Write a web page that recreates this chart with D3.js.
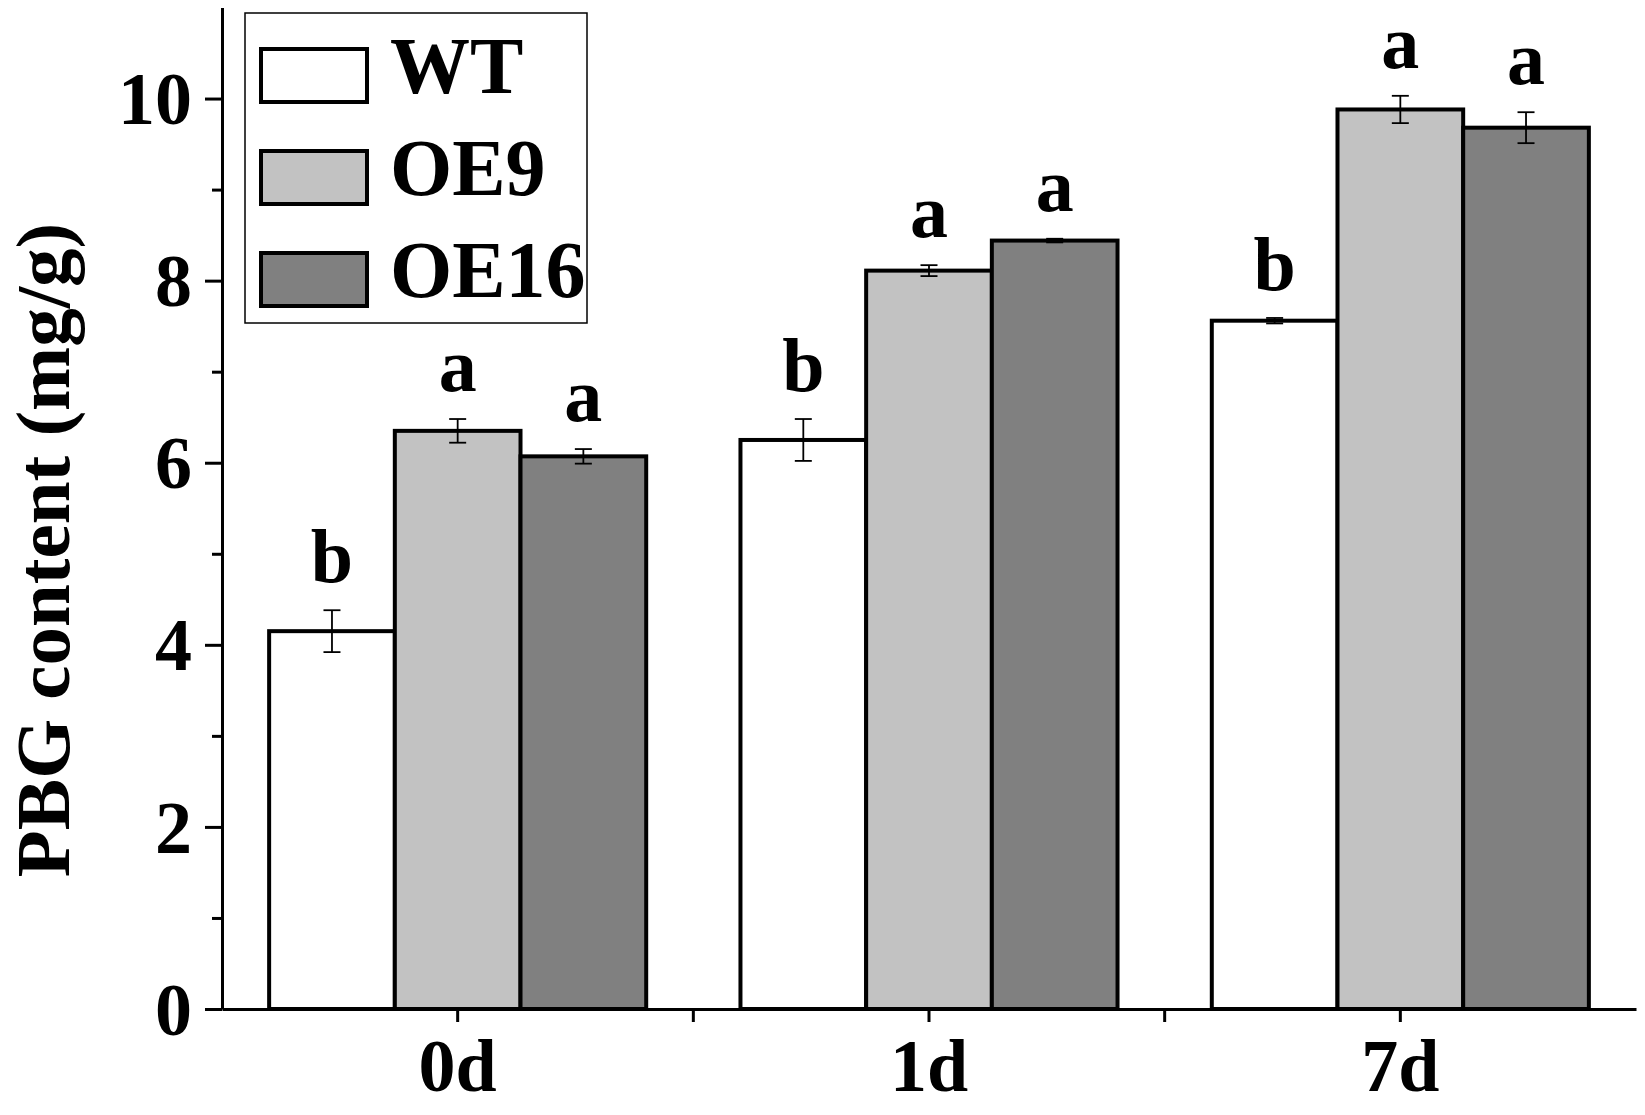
<!DOCTYPE html>
<html lang="en">
<head>
<meta charset="utf-8">
<title>PBG content</title>
<script src="https://cdn.jsdelivr.net/npm/d3@7"></script>
<style>
  html, body { margin: 0; padding: 0; background: #fff; }
  svg text { font-family: "Liberation Serif", "Times New Roman", serif; font-weight: bold; fill: #000; }
</style>
</head>
<body>
<script>
// chart data
var days = ["0d", "1d", "7d"];
var series = ["WT", "OE9", "OE16"];
var colors = ["#ffffff", "#c2c2c2", "#808080"];
var wtVals = [4.15, 6.25, 7.56];
var oe9Vals = [6.35, 8.11, 9.88];
var oe16Vals = [6.07, 8.44, 9.68];
var wtErr = [0.23, 0.23, 0.03];
var oe9Err = [0.13, 0.06, 0.15];
var oe16Err = [0.08, 0.02, 0.17];
var wtSig = ["b", "b", "b"];
var oe9Sig = ["a", "a", "a"];
var oe16Sig = ["a", "a", "a"];
var yMajor = [0, 2, 4, 6, 8, 10];
var yMinor = [1, 3, 5, 7, 9];

var w = 1645, h = 1115;
var padL = 222, padR = 1636, padT = 7.5, padB = 1009;

var vals = [wtVals, oe9Vals, oe16Vals];
var errs = [wtErr, oe9Err, oe16Err];
var sigs = [wtSig, oe9Sig, oe16Sig];

var rows = [];
days.forEach(function(d, i) {
    series.forEach(function(s, j) {
        rows.push({day: d, s: s, j: j, v: vals[j][i], e: errs[j][i], sig: sigs[j][i]});
    });
});

var svg = d3.select("body").append("svg")
    .attr("width", w)
    .attr("height", h);

var xScale = d3.scaleBand()
    .domain(days)
    .range([padL, padR])
    .paddingInner(0.2)
    .paddingOuter(0.1);

var xSub = d3.scaleBand()
    .domain(series)
    .range([0, xScale.bandwidth()]);

var yScale = d3.scaleLinear()
    .domain([0, 11])
    .range([padB, padT]);

// bars
svg.selectAll("rect.bar")
    .data(rows)
    .enter()
    .append("rect")
    .attr("class", "bar")
    .attr("x", function(d) { return xScale(d.day) + xSub(d.s); })
    .attr("y", function(d) { return yScale(d.v); })
    .attr("width", xSub.bandwidth())
    .attr("height", function(d) { return yScale(0) - yScale(d.v); })
    .attr("fill", function(d) { return colors[d.j]; })
    .attr("stroke", "#000")
    .attr("stroke-width", 4);

// error bars
var cap = 8.5;
var eb = svg.selectAll("g.err")
    .data(rows)
    .enter()
    .append("g")
    .attr("class", "err")
    .attr("stroke", "#000")
    .attr("stroke-width", 1.8);

function cx(d) { return xScale(d.day) + xSub(d.s) + xSub.bandwidth() / 2; }

eb.append("line")
    .attr("x1", cx).attr("x2", cx)
    .attr("y1", function(d) { return yScale(d.v - d.e); })
    .attr("y2", function(d) { return yScale(d.v + d.e); });
eb.append("line")
    .attr("x1", function(d) { return cx(d) - cap; })
    .attr("x2", function(d) { return cx(d) + cap; })
    .attr("y1", function(d) { return yScale(d.v + d.e); })
    .attr("y2", function(d) { return yScale(d.v + d.e); });
eb.append("line")
    .attr("x1", function(d) { return cx(d) - cap; })
    .attr("x2", function(d) { return cx(d) + cap; })
    .attr("y1", function(d) { return yScale(d.v - d.e); })
    .attr("y2", function(d) { return yScale(d.v - d.e); });

// significance letters
svg.selectAll("text.sig")
    .data(rows)
    .enter()
    .append("text")
    .attr("class", "sig")
    .attr("x", cx)
    .attr("y", function(d) { return yScale(d.v + d.e) - 28; })
    .attr("text-anchor", "middle")
    .attr("font-size", "76px")
    .text(function(d) { return d.sig; });

// y axis
var yAxis = d3.axisLeft(yScale)
    .tickValues(yMajor)
    .tickSize(17)
    .tickSizeOuter(0)
    .tickPadding(13)
    .tickFormat(d3.format("d"));

var gy = svg.append("g")
    .attr("transform", "translate(" + padL + ",0)")
    .call(yAxis);
gy.select(".domain").attr("stroke-width", 3);
gy.selectAll(".tick line").attr("stroke-width", 3);
gy.selectAll(".tick text")
    .attr("font-size", "74px")
    .attr("font-family", "Liberation Serif")
    .attr("dy", "0.34em");

var gyMinor = svg.append("g")
    .attr("transform", "translate(" + padL + ",0)")
    .call(d3.axisLeft(yScale).tickValues(yMinor).tickSize(10).tickSizeOuter(0).tickFormat(""));
gyMinor.select(".domain").remove();
gyMinor.selectAll(".tick line").attr("stroke-width", 3);

// x axis
var xAxis = d3.axisBottom(xScale)
    .tickSize(13)
    .tickSizeOuter(0)
    .tickPadding(20);

var gx = svg.append("g")
    .attr("transform", "translate(0," + padB + ")")
    .call(xAxis);
gx.select(".domain").attr("stroke-width", 3);
gx.selectAll(".tick line").attr("stroke-width", 3);
gx.selectAll(".tick text")
    .attr("font-size", "74px")
    .attr("font-family", "Liberation Serif")
    .attr("dy", "0.66em");

// ticks between the groups
var bounds = [xScale.step(), xScale.step() * 2];
svg.selectAll("line.bnd")
    .data(bounds)
    .enter()
    .append("line")
    .attr("class", "bnd")
    .attr("x1", function(d) { return padL + d; })
    .attr("x2", function(d) { return padL + d; })
    .attr("y1", padB)
    .attr("y2", padB + 13)
    .attr("stroke", "#000")
    .attr("stroke-width", 3);

// y title
svg.append("text")
    .attr("transform", "translate(69," + ((212 + 888) / 2) + ") rotate(-90)")
    .attr("text-anchor", "middle")
    .attr("font-size", "77px")
    .text("PBG content (mg/g)");

// legend
var lg = svg.append("g");
lg.append("rect")
    .attr("x", 245).attr("y", 13)
    .attr("width", 342).attr("height", 310)
    .attr("fill", "#fff")
    .attr("stroke", "#000")
    .attr("stroke-width", 1.5);

var li = lg.selectAll("g.item")
    .data(series)
    .enter()
    .append("g")
    .attr("class", "item")
    .attr("transform", function(d, i) { return "translate(0," + (49 + i * 102) + ")"; });

li.append("rect")
    .attr("x", 261).attr("y", 0)
    .attr("width", 106).attr("height", 53)
    .attr("fill", function(d, i) { return colors[i]; })
    .attr("stroke", "#000")
    .attr("stroke-width", 4);

li.append("text")
    .attr("x", 390)
    .attr("y", 44)
    .attr("font-size", "80px")
    .text(function(d) { return d; });
</script>
</body>
</html>
